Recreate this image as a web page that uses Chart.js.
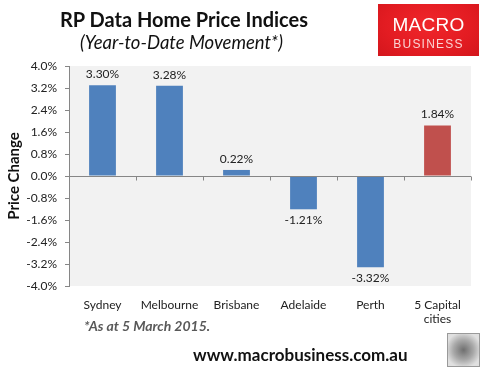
<!DOCTYPE html>
<html>
<head>
<meta charset="utf-8">
<script src="https://cdn.jsdelivr.net/npm/chart.js@4/dist/chart.umd.min.js"></script>
<style>
  html, body { margin: 0; padding: 0; background: #fff; }
  #wrap { position: relative; width: 488px; height: 373px; overflow: hidden; font-family: Lato, "Open Sans", sans-serif; }
  #chartCanvas { position: absolute; left: 0; top: 0; }
  .txt { position: absolute; white-space: nowrap; }
  #title { left: 60px; top: 7px; font-size: 20px; font-weight: bold; color: #111; }
  #subtitle { left: 80px; top: 31px; font-size: 18.5px; font-style: italic; color: #111; }
  #logo { position: absolute; left: 378px; top: 4px; width: 101px; height: 52px;
          background: radial-gradient(ellipse at 50% 40%, #f0262b 0%, #e31c22 60%, #d3161c 100%); }
  #logo .m { position: absolute; left: 0; width: 101px; top: 10px; text-align: center; color: #fff;
             font-family: "Liberation Sans", Arial, sans-serif; font-size: 19px; letter-spacing: 0.3px; }
  #logo .b { position: absolute; left: 0; width: 101px; top: 33px; text-align: center; color: #fbd3d3;
             font-family: "Liberation Sans", Arial, sans-serif; font-size: 12px; letter-spacing: 1.2px; }
  #note { left: 84px; top: 317px; font-size: 14px; font-weight: bold; font-style: italic; color: #595959; }
  #url { left: 193px; top: 344px; font-size: 17px; font-weight: bold; color: #111; }
  #wolf { position: absolute; left: 447px; top: 333px; width: 31px; height: 32px; border: 1px solid #9a9a9a;
          background: radial-gradient(circle at 50% 50%, #6f6f6f 0%, #a8a8a8 45%, #e0e0e0 80%); }
</style>
</head>
<body>
<div id="wrap">
  <canvas id="chartCanvas" width="488" height="373"></canvas>
  <div class="txt" id="title">RP Data Home Price Indices</div>
  <div class="txt" id="subtitle">(Year-to-Date Movement*)</div>
  <div id="logo"><div class="m">MACRO</div><div class="b">BUSINESS</div></div>
  <div class="txt" id="note">*As at 5 March 2015.</div>
  <div class="txt" id="url">www.macrobusiness.com.au</div>
  <div id="wolf"></div>
</div>
<script>
// data
const cityLabels = ["Sydney", "Melbourne", "Brisbane", "Adelaide", "Perth", ["5 Capital", "cities"]];
const priceChange = [3.30, 3.28, 0.22, -1.21, -3.32, 1.84];
const barColours = ["#4f81bd", "#4f81bd", "#4f81bd", "#4f81bd", "#4f81bd", "#c0504d"];
const yTicks = [4.0, 3.2, 2.4, 1.6, 0.8, 0.0, -0.8, -1.6, -2.4, -3.2, -4.0];

const labelFont = { family: "Lato, 'Open Sans', sans-serif", size: 12 };

// grey plot area, zero line with its little category ticks
const plotBackPlugin = {
    id: "plotBack",
    beforeDraw: (chart) => {
        let { ctx, chartArea } = chart;
        ctx.save();
        ctx.fillStyle = "#f2f2f2";
        ctx.fillRect(chartArea.left, chartArea.top, chartArea.right - chartArea.left, chartArea.bottom - chartArea.top);
        ctx.restore();
    },
    afterDatasetsDraw: (chart) => {
        let { ctx, chartArea, scales } = chart;
        let y0 = Math.round(scales.y.getPixelForValue(0)) + 0.5;
        ctx.save();
        ctx.strokeStyle = "#868686";
        ctx.lineWidth = 1;
        ctx.beginPath();
        ctx.moveTo(chartArea.left, y0);
        ctx.lineTo(chartArea.right, y0);
        let step = (chartArea.right - chartArea.left) / cityLabels.length;
        for (let i = 1; i <= cityLabels.length; i++) {
            let x = Math.round(chartArea.left + step * i) + 0.5;
            ctx.moveTo(x, y0);
            ctx.lineTo(x, y0 + 4);
        }
        ctx.stroke();
        ctx.restore();
    }
};

// value labels above / below each bar
const valueLabelPlugin = {
    id: "valueLabels",
    afterDatasetsDraw: (chart) => {
        let { ctx } = chart;
        let meta = chart.getDatasetMeta(0);
        ctx.save();
        ctx.font = "12px " + labelFont.family;
        ctx.fillStyle = "#222";
        ctx.textAlign = "center";
        meta.data.forEach((bar, i) => {
            let v = priceChange[i];
            let txt = v.toFixed(2) + "%";
            if (v >= 0) {
                ctx.textBaseline = "bottom";
                ctx.fillText(txt, bar.x, bar.y - 5);
            } else {
                ctx.textBaseline = "top";
                ctx.fillText(txt, bar.x, bar.y + 5);
            }
        });
        ctx.restore();
    }
};

const ctx = document.getElementById("chartCanvas");

new Chart(ctx, {
    type: "bar",
    data: {
        labels: cityLabels,
        datasets: [{
            data: priceChange,
            backgroundColor: barColours,
            borderWidth: 0,
            barPercentage: 0.4,
            categoryPercentage: 1.0
        }]
    },
    options: {
        responsive: false,
        animation: false,
        layout: { padding: { left: 0, top: 66, right: 17, bottom: 47 } },
        plugins: { legend: { display: false }, tooltip: { enabled: false } },
        scales: {
            x: {
                grid: { display: false },
                border: { display: false },
                ticks: { color: "#222", font: labelFont, padding: 4, maxRotation: 0, autoSkip: false },
                afterFit: (scale) => { scale.height = 40; }
            },
            y: {
                min: -4,
                max: 4,
                afterBuildTicks: (scale) => { scale.ticks = yTicks.map(v => ({ value: v })); },
                ticks: {
                    color: "#222",
                    font: labelFont,
                    padding: 8,
                    callback: (v) => Number(v).toFixed(1) + "%"
                },
                grid: { drawOnChartArea: false, color: "#868686", tickLength: 4 },
                border: { display: true, color: "#868686" },
                title: {
                    display: true,
                    text: "Price Change",
                    color: "#111",
                    font: { family: labelFont.family, size: 15, weight: "bold" },
                    padding: { top: 5, bottom: 0 }
                },
                afterFit: (scale) => { scale.width = 69; }
            }
        }
    },
    plugins: [plotBackPlugin, valueLabelPlugin]
});
</script>
</body>
</html>
